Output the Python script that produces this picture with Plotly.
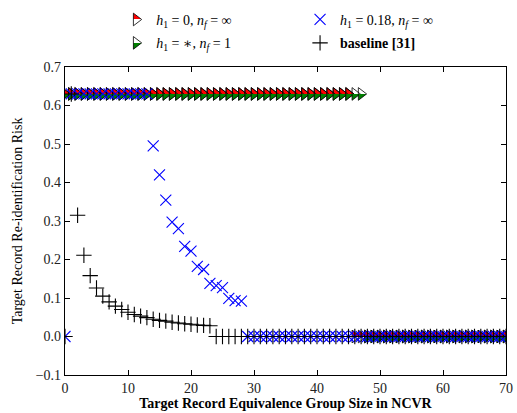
import plotly.graph_objects as go

# Equivalence group sizes (x axis)
group_size = list(range(0, 71))

# Re-identification risk per group size, one list per configuration
risk_h0_nfinf = [
    0.63, 0.63, 0.63, 0.63, 0.63, 0.63, 0.63, 0.63, 0.63, 0.63,
    0.63, 0.63, 0.63, 0.63, 0.63, 0.63, 0.63, 0.63, 0.63, 0.63,
    0.63, 0.63, 0.63, 0.63, 0.63, 0.63, 0.63, 0.63, 0.63, 0.63,
    0.63, 0.63, 0.63, 0.63, 0.63, 0.63, 0.63, 0.63, 0.63, 0.63,
    0.63, 0.63, 0.63, 0.63, 0.63, 0.63, 0.0, 0.0, 0.0, 0.0,
    0.0, 0.0, 0.0, 0.0, 0.0, 0.0, 0.0, 0.0, 0.0, 0.0,
    0.0, 0.0, 0.0, 0.0, 0.0, 0.0, 0.0, 0.0, 0.0, 0.0,
    0.0,
]
risk_hstar_nf1 = [
    0.63, 0.63, 0.63, 0.63, 0.63, 0.63, 0.63, 0.63, 0.63, 0.63,
    0.63, 0.63, 0.63, 0.63, 0.63, 0.63, 0.63, 0.63, 0.63, 0.63,
    0.63, 0.63, 0.63, 0.63, 0.63, 0.63, 0.63, 0.63, 0.63, 0.63,
    0.63, 0.63, 0.63, 0.63, 0.63, 0.63, 0.63, 0.63, 0.63, 0.63,
    0.63, 0.63, 0.63, 0.63, 0.63, 0.63, 0.63, 0.63, 0.0, 0.0,
    0.0, 0.0, 0.0, 0.0, 0.0, 0.0, 0.0, 0.0, 0.0, 0.0,
    0.0, 0.0, 0.0, 0.0, 0.0, 0.0, 0.0, 0.0, 0.0, 0.0,
    0.0,
]
risk_h018_nfinf = [
    0.0, 0.63, 0.63, 0.63, 0.63, 0.63, 0.63, 0.63, 0.63, 0.63,
    0.63, 0.63, 0.63, 0.63, 0.495, 0.42, 0.354, 0.297, 0.28, 0.234,
    0.222, 0.182, 0.174, 0.138, 0.132, 0.127, 0.099, 0.093, 0.092, 0.0,
    0.0, 0.0, 0.0, 0.0, 0.0, 0.0, 0.0, 0.0, 0.0, 0.0,
    0.0, 0.0, 0.0, 0.0, 0.0, 0.0, 0.0, 0.0, 0.0, 0.0,
    0.0, 0.0, 0.0, 0.0, 0.0, 0.0, 0.0, 0.0, 0.0, 0.0,
    0.0, 0.0, 0.0, 0.0, 0.0, 0.0, 0.0, 0.0, 0.0, 0.0,
    0.0,
]
risk_baseline = [
    0.0, 0.63, 0.315, 0.211, 0.158, 0.126, 0.105, 0.09, 0.079, 0.07,
    0.063, 0.057, 0.053, 0.049, 0.045, 0.042, 0.04, 0.037, 0.035, 0.033,
    0.032, 0.03, 0.029, 0.028, 0.0, 0.0, 0.0, 0.0, 0.0, 0.0,
    0.0, 0.0, 0.0, 0.0, 0.0, 0.0, 0.0, 0.0, 0.0, 0.0,
    0.0, 0.0, 0.0, 0.0, 0.0, 0.0, 0.0, 0.0, 0.0, 0.0,
    0.0, 0.0, 0.0, 0.0, 0.0, 0.0, 0.0, 0.0, 0.0, 0.0,
    0.0, 0.0, 0.0, 0.0, 0.0, 0.0, 0.0, 0.0, 0.0, 0.0,
    0.0,
]

x_ticks = [0, 10, 20, 30, 40, 50, 60, 70]
y_ticks = [-0.1, 0.0, 0.1, 0.2, 0.3, 0.4, 0.5, 0.6, 0.7]

label_h0 = "<i>h</i><sub>1</sub> = 0, <i>n<sub>f</sub></i> = ∞"
label_hstar = "<i>h</i><sub>1</sub> = ∗, <i>n<sub>f</sub></i> = 1"
label_h018 = "<i>h</i><sub>1</sub> = 0.18, <i>n<sub>f</sub></i> = ∞"
label_base = "<b>baseline [31]</b>"

SERIF = "Liberation Serif, DejaVu Serif, serif"

fig = go.Figure()

# Red-topped triangles (bottom half white)
fig.add_trace(go.Scatter(
    x=group_size, y=risk_h0_nfinf, mode="markers", name=label_h0,
    legend="legend",
    marker=dict(symbol="triangle-right", size=11, color="#ff0000",
                gradient=dict(type="vertical", color="#ffffff"),
                line=dict(color="black", width=0.8)),
))
# Green-bottomed triangles (top half transparent)
fig.add_trace(go.Scatter(
    x=group_size, y=risk_hstar_nf1, mode="markers", name=label_hstar,
    legend="legend2",
    marker=dict(symbol="triangle-right", size=11, color="rgba(255,255,255,0)",
                gradient=dict(type="vertical", color="#008000"),
                line=dict(color="black", width=0.8)),
))
fig.add_trace(go.Scatter(
    x=group_size, y=risk_h018_nfinf, mode="markers", name=label_h018,
    legend="legend3",
    marker=dict(symbol="x-thin", size=11,
                line=dict(color="#0000ff", width=1.1)),
))
fig.add_trace(go.Scatter(
    x=group_size, y=risk_baseline, mode="markers", name=label_base,
    legend="legend4",
    marker=dict(symbol="cross-thin", size=11,
                line=dict(color="black", width=1.1)),
))

legend_common = dict(
    font=dict(family=SERIF, size=14, color="black"),
    bgcolor="rgba(0,0,0,0)", borderwidth=0,
    xanchor="left", yanchor="middle", itemwidth=30,
)

fig.update_layout(
    width=517, height=413,
    margin=dict(l=65, r=4, t=61, b=38),
    paper_bgcolor="white", plot_bgcolor="white",
    font=dict(family=SERIF, size=13, color="black"),
    showlegend=True,
    legend=dict(x=0.116, y=1.153, **legend_common),
    legend2=dict(x=0.116, y=1.077, **legend_common),
    legend3=dict(x=0.533, y=1.153, **legend_common),
    legend4=dict(x=0.533, y=1.077, **legend_common),
    xaxis=dict(
        range=[0, 70], tickvals=x_ticks, ticktext=[str(v) for v in x_ticks],
        ticks="inside", ticklen=5, tickwidth=1, tickcolor="black",
        showline=True, linecolor="black", linewidth=1.2, mirror="ticks",
        showgrid=False, zeroline=False, ticklabeloverflow="allow",
        tickfont=dict(family=SERIF, size=14, color="#222"),
        title=dict(text="<b>Target Record Equivalence Group Size in NCVR</b>",
                   font=dict(family=SERIF, size=14, color="black"), standoff=3),
    ),
    yaxis=dict(
        range=[-0.1, 0.7], tickvals=y_ticks, tickformat=".1f",
        ticks="inside", ticklen=5, tickwidth=1, tickcolor="black",
        showline=True, linecolor="black", linewidth=1.2, mirror="ticks",
        showgrid=False, zeroline=False,
        tickfont=dict(family=SERIF, size=14, color="#222"),
        title=dict(text="Target Record Re-identification Risk",
                   font=dict(family=SERIF, size=14, color="black"), standoff=9),
    ),
)

# Make the marker gradients split sharply at the middle (half-filled triangles)
sharpen_js = """
document.querySelectorAll('linearGradient').forEach(function(g){
  var stops = g.querySelectorAll('stop');
  if (stops.length !== 2) return;
  var a = stops[0].cloneNode(), b = stops[1].cloneNode();
  a.setAttribute('offset', '50%'); b.setAttribute('offset', '50%');
  g.insertBefore(a, stops[1]); g.insertBefore(b, stops[1]);
});
"""

fig.write_html("out.html", post_script=sharpen_js)
